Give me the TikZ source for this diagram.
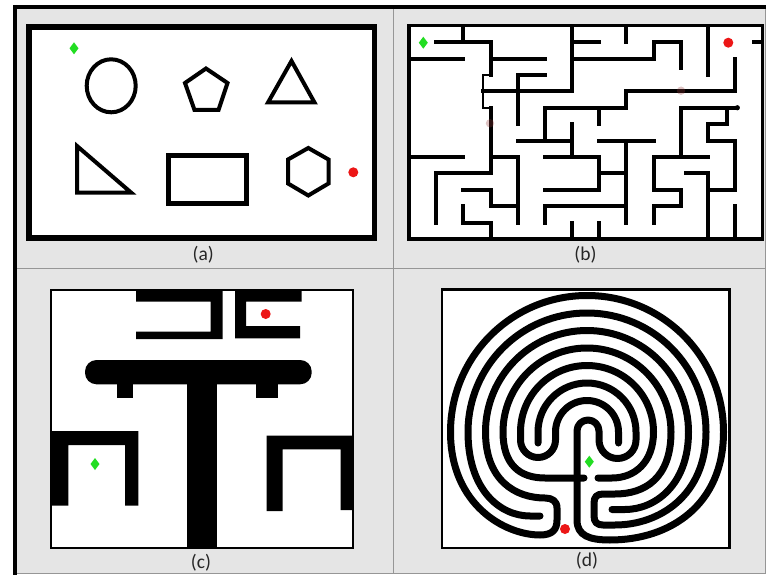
\documentclass[tikz,border=0pt]{standalone}
\usepackage{fontspec}
\setmainfont{Carlito}
\definecolor{panelgray}{RGB}{229,229,229}
\definecolor{rulegray}{RGB}{150,150,150}
\definecolor{startgreen}{RGB}{34,221,34}
\definecolor{goalred}{RGB}{236,22,22}
\definecolor{trailred}{RGB}{150,60,60}
\tikzset{
  lbl/.style={font=\fontsize{19.5}{22}\selectfont, text=black!85, inner sep=0pt},
  outline/.style={line width=4, line join=miter},
  mazewall/.style={line width=4, line cap=rect},
  labwall/.style={line width=7, line cap=round, line join=round},
  gem/.pic={\fill[startgreen] (0,-6) -- (4.5,0) -- (0,6) -- (-4.5,0) -- cycle;},
  goal/.pic={\fill[goalred] (0,0) circle[radius=5];},
  trail/.pic={\fill[trailred, opacity=0.3] (0,0) circle[radius=4.2];},
}
\begin{document}
\begin{tikzpicture}[x=1pt,y=-1pt]
\useasboundingbox (0,0) rectangle (766,575);
% ---------- background and table rules ----------
\fill[white] (0,0) rectangle (766,575);
\fill[panelgray] (15,7) rectangle (765.5,573.5);
\draw[rulegray, line width=1] (393.3,9) -- (393.3,573.5);
\draw[rulegray, line width=1] (17,268.3) -- (765.5,268.3);
\draw[rulegray, line width=1] (765.3,9) -- (765.3,573.5);
\draw[rulegray, line width=1] (17,573.5) -- (765.5,573.5);
\draw[black, line width=4.3] (13.3,7.2) -- (766,7.2);
\draw[black, line width=3.5] (15,5) -- (15,575);

% ---------- panel (a) ----------
\draw[line width=5.5, fill=white] (29,27) rectangle (374.5,238);
\draw[outline] (111.2,85.8) ellipse[x radius=24.5, y radius=26.5];
\draw[outline] (206,68.5) -- (227.5,83) -- (218.5,110) -- (194.5,110) -- (185,83) -- cycle;
\draw[outline] (291.5,61) -- (314.5,102.5) -- (268,102.5) -- cycle;
\draw[outline] (77,146) -- (131,192.5) -- (77,192.5) -- cycle;
\draw[line width=5] (168.2,156) rectangle (246.8,203.5);
\draw[outline] (308.3,148) -- (328.5,159.5) -- (328.5,183.5) -- (308.3,195.5) -- (288,183.5) -- (288,159.5) -- cycle;
\pic at (74,48.3) {gem};
\pic at (353.3,172.3) {goal};
\node[lbl] (la) at (203.3,254.5) {(a)};

% ---------- panel (b) : grid maze ----------
\draw[line width=3.5, fill=white] (409,25.7) rectangle (762.3,239);
\begin{scope}[shift={(409,25.7)}, x=27.18pt, y=-16.41pt]
\draw[mazewall]
  (1,1) -- (3,1)  (6,1) -- (7,1)  (9,1) -- (10,1)  (12.7,1) -- (13,1)
  (0,2) -- (2,2)  (3,2) -- (5,2)  (6,2) -- (9,2)
  (4,3) -- (5,3)
  (2.72,4) -- (6,4)  (8,4) -- (12,4)
  (5,5) -- (8,5)  (10,5) -- (12,5)
  (11,6) -- (11.7,6)
  (4,7) -- (6,7)  (7,7) -- (9,7)  (11,7) -- (12,7)
  (0,8) -- (2,8)  (3,8) -- (4,8)  (5,8) -- (7,8)  (9,8) -- (11,8)
  (1,9) -- (3,9)  (7,9) -- (8,9)  (10.2,9) -- (11,9)
  (2,10) -- (3,10)  (5,10) -- (7,10)  (9,10) -- (10,10)  (11,10) -- (12,10)
  (3,11) -- (4,11)  (5,11) -- (8,11)  (9,11) -- (10,11)
  (2,12) -- (3,12)
  (1,9) -- (1,12)
  (2,0) -- (2,1)  (2,11) -- (2,12)
  (3,1) -- (3,3)  (3,5) -- (3,9)  (3,10) -- (3,11)  (3,12) -- (3,13)
  (4,3) -- (4,6)  (4,8) -- (4,12)
  (5,5) -- (5,7)  (5,11) -- (5,12)
  (6,0) -- (6,4)  (6,6) -- (6,8)  (6,12) -- (6,13)
  (7,5) -- (7,6)  (7,8) -- (7,10)  (7,12) -- (7,13)
  (8,0) -- (8,1)  (8,4) -- (8,5)  (8,7) -- (8,12)
  (9,1) -- (9,2)  (9,8) -- (9,10)  (9,11) -- (9,12)
  (10,1) -- (10,2.6)  (10,5) -- (10,8)  (10,10) -- (10,11)
  (11,0) -- (11,3)  (11,6) -- (11,7)  (11,9) -- (11,13)
  (11.7,5) -- (11.7,6)
  (12,2) -- (12,4)  (12,7) -- (12,10)  (12,11) -- (12,13);
\draw[line width=2.2] (3,3) -- (2.72,3) -- (2.72,5) -- (3,5);
\fill (12.08,5) circle[radius=2.6pt];
\end{scope}
\pic at (423.3,42.7) {gem};
\pic at (728.3,42.7) {goal};
\pic at (490,123.3) {trail};
\pic at (681,90.7) {trail};
\node[lbl] (lb) at (585.5,255) {(b)};

% ---------- panel (c) ----------
\draw[line width=2, fill=white] (51,290) rectangle (352.5,548);
\fill (136,290) -- (222.7,290) -- (222.7,339) -- (136,339) -- (136,331.7) -- (210.7,331.7) -- (210.7,301.7) -- (136,301.7) -- cycle;
\fill (235,290) -- (301.7,290) -- (301.7,301.7) -- (246,301.7) -- (246,326) -- (300,326) -- (300,338.3) -- (235,338.3) -- cycle;
\fill[rounded corners=11.5] (85,360) rectangle (311.7,384.3);
\fill (186.7,380) rectangle (216.7,548);
\fill (116.7,380) rectangle (132.7,398.3);
\fill (256,380) rectangle (277.7,398.3);
\fill (51,431) -- (138.3,431) -- (138.3,505.7) -- (125,505.7) -- (125,445) -- (68.3,445) -- (68.3,505.7) -- (51,505.7) -- cycle;
\fill (266.7,435.7) -- (352.5,435.7) -- (352.5,510) -- (340.7,510) -- (340.7,449.3) -- (282.7,449.3) -- (282.7,511) -- (266.7,511) -- cycle;
\pic at (95,464) {gem};
\pic at (265.7,314) {goal};
\node[lbl] (lc) at (201,563) {(c)};

% ---------- panel (d) : classical labyrinth ----------
\draw[line width=2.5, fill=white] (442,289.7) rectangle (729.5,548);
% wall 3 -> wall 1 -> stem -> wall 8 -> wall 6
\draw[labwall] (538,443) -- (538,432) arc[start angle=180, end angle=360, radius=49]
  -- (636,440) arc[start angle=0, end angle=180, radius=18.5]
  -- (599,431) arc[start angle=0, end angle=-180, radius=11]
  -- (577,520) .. controls (577,536) and (590,540) .. (610,540)
  .. controls (670,540) and (723.5,505) .. (723.5,432)
  arc[start angle=0, end angle=-180, radius=136.5]
  .. controls (450.5,505) and (505,535) .. (540,535)
  .. controls (552,535) and (557,530) .. (557,520)
  -- (557,508) .. controls (557,501) and (552,498) .. (545,498)
  .. controls (515,498) and (485.5,480) .. (485.5,432)
  arc[start angle=180, end angle=360, radius=101.5]
  .. controls (688.5,485) and (655,509.5) .. (625,509.5) -- (612,509.5);
% wall 2 -> wall 4
\draw[labwall] (618.5,443) -- (618.5,432) arc[start angle=0, end angle=-180, radius=31.5]
  -- (555.5,440) arc[start angle=0, end angle=180, radius=17.5]
  -- (520.5,432) arc[start angle=180, end angle=360, radius=66.5]
  .. controls (653.5,462) and (635,478) .. (612,478) -- (598,478);
% cross bar -> wall 5 -> wall 7
\draw[labwall] (584,478) -- (545,478) .. controls (520,478) and (503,465) .. (503,432)
  arc[start angle=180, end angle=360, radius=84]
  .. controls (671,478) and (645,494) .. (615,494) -- (603,494)
  .. controls (597,494) and (594,497) .. (594,503) -- (594,516)
  .. controls (594,522) and (597,525) .. (603,525) -- (615,525)
  .. controls (660,525) and (706,495) .. (706,432)
  arc[start angle=0, end angle=-180, radius=119]
  .. controls (468,490) and (500,516) .. (530,516) -- (540,516);
\pic at (589.3,461.7) {gem};
\pic at (565,529) {goal};
\node[lbl] (ld) at (587,561) {(d)};
\end{tikzpicture}
\end{document}
